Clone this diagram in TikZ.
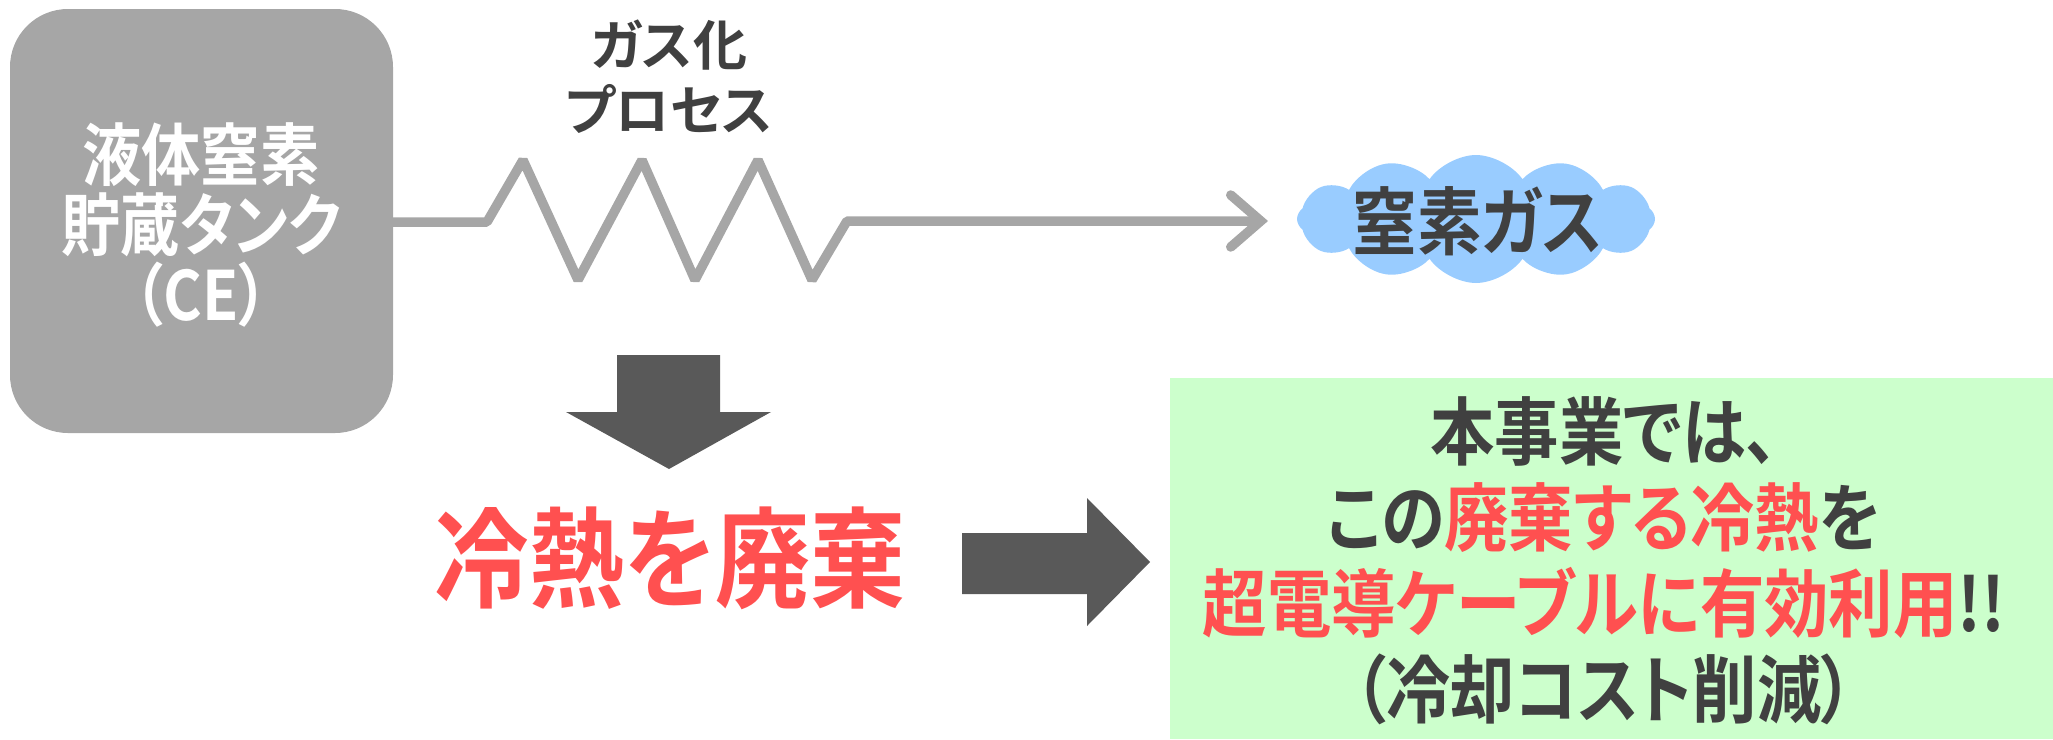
\documentclass[tikz,border=0pt]{standalone}
\usepackage{fontspec}
\setmainfont{Noto Sans CJK JP}[BoldFont={* Bold},RawFeature=+palt]
\newfontfamily\jpc{Noto Sans CJK JP}[BoldFont={* Bold},RawFeature=+palt,FakeStretch=0.87]
\usetikzlibrary{shapes.symbols,arrows.meta}
\definecolor{tankgray}{HTML}{A6A6A6}
\definecolor{linegray}{HTML}{A6A6A6}
\definecolor{darktxt}{HTML}{404040}
\definecolor{redtxt}{HTML}{FF5050}
\definecolor{arrowdark}{HTML}{595959}
\definecolor{cloudblue}{HTML}{99CCFF}
\definecolor{greenbg}{HTML}{CCFFCC}
\tikzset{
  pipe/.style={draw=linegray, line width=9.5pt, line join=bevel},
  blockarrow/.style={fill=arrowdark},
  lbl/.style={inner sep=0pt, align=center},
}
\begin{document}
\begin{tikzpicture}[x=1pt,y=-1pt]
\useasboundingbox (0,0) rectangle (2053,739);
% tank
\node[fill=tankgray, rounded corners=58pt, minimum width=383pt, minimum height=424pt, inner sep=0pt] (tank) at (201.5,221) {};
\node[lbl, text=white, font=\jpc\bfseries\fontsize{68}{70}\selectfont] (tanktxt) at (201,225) {液体窒素\\貯蔵タンク\\（CE）};
% process label
\node[lbl, text=darktxt, font=\bfseries\fontsize{54}{65}\selectfont] (proc) at (669,77) {ガス化\\プロセス};
% cloud
\node[cloud, cloud puffs=12, cloud puff arc=110, aspect=2.8, fill=cloudblue, minimum width=358pt, minimum height=128pt, inner sep=0pt] (cloud) at (1476,219) {};
\node[lbl, text=darktxt, font=\jpc\bfseries\fontsize{74}{70}\selectfont] (gas) at (1478,221) {窒素ガス};
% pipe with zigzag
\coordinate (tip) at (1268,221);
\draw[pipe, -{Straight Barb[length=30pt, width=52pt, line cap=round]}] (tank.east |- 0,222) -- (487,222) -- (523,160) -- (578,280) -- (642,160) -- (695,280) -- (758,160) -- (812,280) -- (847,221) -- (tip);
% down arrow
\fill[blockarrow] (617,355) -- (720,355) -- (720,412) -- (771,412) -- (669,469) -- (566,412) -- (617,412) -- cycle;
% waste text
\node[lbl, text=redtxt, font=\jpc\bfseries\fontsize{109}{110}\selectfont] (waste) at (670,558) {冷熱を廃棄};
% right arrow
\fill[blockarrow] (962,533) -- (1087,533) -- (1087,498) -- (1150,562) -- (1087,626) -- (1087,594) -- (962,594) -- cycle;
% green box
\node[fill=greenbg, minimum width=883pt, minimum height=361pt, inner sep=0pt] (box) at (1611.5,558.5) {};
\node[lbl, text=darktxt, font=\jpc\bfseries\fontsize{74}{86}\selectfont] (msg) at (1604,561) {本事業では、\\この\textcolor{redtxt}{廃棄する冷熱}を\\\textcolor{redtxt}{超電導ケーブルに有効利用}!!\\（冷却コスト削減）};
\end{tikzpicture}
\end{document}
